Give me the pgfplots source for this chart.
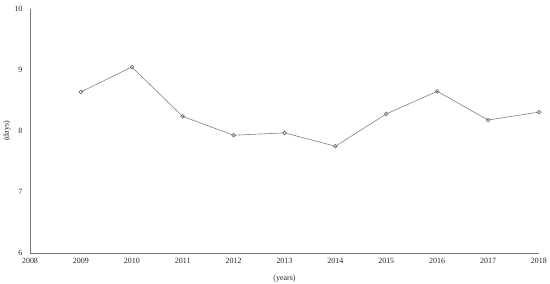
\documentclass[border=0pt]{standalone}
\usepackage{fontspec}
\setmainfont{Liberation Serif}
\usepackage{pgfplots}
\pgfplotsset{compat=1.18}
\definecolor{linegray}{RGB}{128,128,128}
\definecolor{axisgray}{RGB}{120,120,120}
\begin{document}
\begin{tikzpicture}
\begin{axis}[
    scale only axis,
    width=509bp, height=244bp,
    xmin=2008, xmax=2018,
    ymin=6, ymax=10,
    xtick={2008,...,2018},
    ytick={6,7,8,9,10},
    x tick label style={/pgf/number format/1000 sep={}},
    /pgf/number format/assume math mode=true,
    tick label style={font=\fontsize{8}{9}\selectfont, text=black!85},
    major tick length=0pt,
    axis x line*=bottom,
    axis y line*=left,
    axis line style={axisgray, line width=0.9pt, -},
    xtick pos=bottom, ytick pos=left,
    yticklabel style={xshift=-4bp},
    xticklabel style={yshift=-2bp},
    xlabel={(years)},
    ylabel={(days)},
    label style={font=\fontsize{8}{9}\selectfont, text=black!85},
    xlabel style={yshift=-4bp},
    ylabel style={yshift=-3bp},
    clip=false,
]
\coordinate (O) at (rel axis cs:0,0);
\addplot[linegray, line width=0.6pt, mark=o, mark size=1.9pt,
         mark options={fill=white, draw=black!65, line width=0.5pt}]
coordinates {
    (2009,8.64) (2010,9.05) (2011,8.24) (2012,7.93) (2013,7.97)
    (2014,7.75) (2015,8.28) (2016,8.65) (2017,8.18) (2018,8.31)
};
\end{axis}
\pgfresetboundingbox
\path (O) ++(-30bp,-31bp) rectangle ++(550bp,284bp);
\end{tikzpicture}
\end{document}
